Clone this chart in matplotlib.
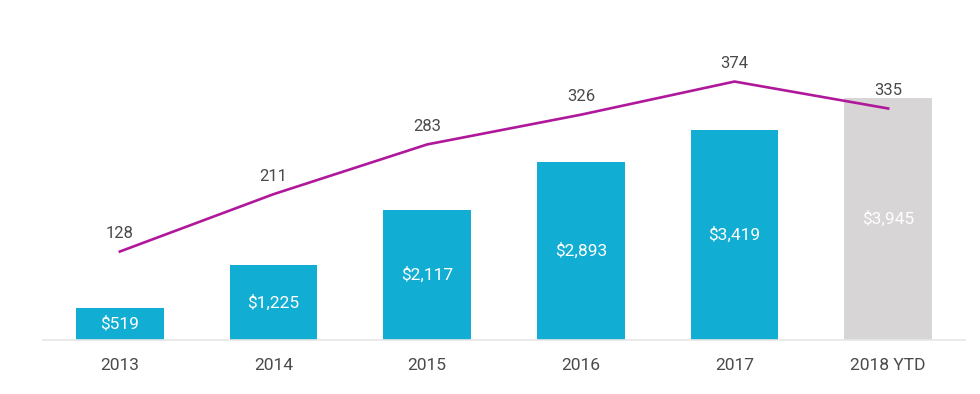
import matplotlib
matplotlib.use("Agg")
import matplotlib.pyplot as plt

years = ["2013", "2014", "2015", "2016", "2017", "2018 YTD"]
amounts = [519, 1225, 2117, 2893, 3419, 3945]
counts = [128, 211, 283, 326, 374, 335]

BLUE = "#12ADD3"
GRAY = "#D7D5D6"
MAGENTA = "#B0189B"
TEXT = "#4A4A4A"

plt.rcParams["font.family"] = ["Roboto", "DejaVu Sans"]

fig = plt.figure(figsize=(9.8, 3.94), dpi=100)
ax = fig.add_axes([43 / 980, 54 / 394, 922 / 980, 340 / 394])

x = list(range(len(years)))
colors = [BLUE] * (len(years) - 1) + [GRAY]
ax.bar(x, amounts, width=0.572, color=colors, zorder=2)
for xi, v in zip(x, amounts):
    ax.text(xi, v / 2, f"${v:,}", ha="center", va="center",
            color="white", fontsize=12.5, zorder=3)

ax.set_xlim(-0.5, 5.5)
ax.set_ylim(0, 5537)
ax.set_xticks(x)
ax.set_xticklabels(years, fontsize=12.5, color=TEXT)
ax.tick_params(axis="x", length=0, pad=13)
ax.set_yticks([])
for side in ["top", "right", "left"]:
    ax.spines[side].set_visible(False)
ax.spines["bottom"].set_color("#E6E6E6")
ax.spines["bottom"].set_linewidth(1.2)

ax2 = ax.twinx()
ax2.set_ylim(0, 492)
ax2.plot(x, counts, color=MAGENTA, linewidth=1.9, zorder=4)
for xi, v in zip(x, counts):
    ax2.annotate(str(v), (xi, v), xytext=(0, 13), textcoords="offset points",
                 ha="center", va="center", color=TEXT, fontsize=12)
ax2.set_yticks([])
for side in ["top", "right", "left", "bottom"]:
    ax2.spines[side].set_visible(False)

fig.savefig("out.png", dpi=100)
